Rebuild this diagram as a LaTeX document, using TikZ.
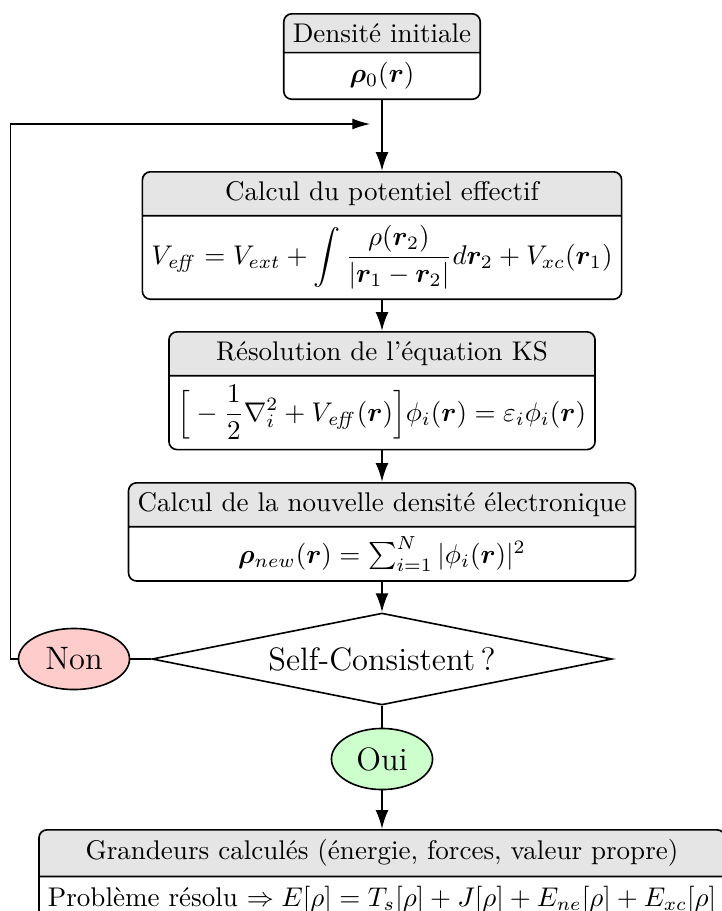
\documentclass[tikz,border=0pt]{standalone}
\usepackage{amsmath,bm}
\usetikzlibrary{shapes.multipart,shapes.geometric,arrows.meta,backgrounds}
\newcommand\headfill[1]{%
  \begin{scope}[on background layer]
    \begin{scope}
      \clip[rounded corners=3pt] (#1.north west) rectangle (#1.south east);
      \fill[gray!20] (#1.north west) rectangle (#1.one split east);
    \end{scope}
  \end{scope}}
\tikzset{
  box/.style={rectangle split, rectangle split parts=2, draw, semithick,
    rounded corners=3pt, anchor=north},
  arr/.style={thick, -{Latex[length=7pt,width=4.8pt]}},
  looparr/.style={-{Latex[length=6.5pt,width=4pt]}},
  decision/.style={diamond, draw, semithick, aspect=5, inner sep=0pt,
    minimum width=170.2pt, minimum height=34pt, font=\large},
  non/.style={ellipse, draw, semithick, fill=red!20, font=\large,
    minimum width=41.1pt, minimum height=22.6pt, inner sep=0pt},
  oui/.style={ellipse, draw, semithick, fill=green!20, font=\large,
    minimum width=37.4pt, minimum height=22.6pt, inner sep=0pt}
}
\begin{document}
\begin{tikzpicture}[x=0.37pt,y=-0.37pt]
\useasboundingbox (0,0) rectangle (722,911);
\clip (0,0) rectangle (722,911);
\node[box] (b1) at (382,13) {Densité initiale \nodepart{two} $\bm{\rho}_0(\bm{r})$};
\node[box] (b2) at (382,171) {Calcul du potentiel effectif \nodepart{two}
  $\displaystyle V_{\mathit{eff}} = V_{ext} + \int\frac{\rho(\bm{r}_2)}{|\bm{r}_1-\bm{r}_2|}d\bm{r}_2 + V_{xc}(\bm{r}_1)$};
\node[box] (b3) at (382,331) {Résolution de l’équation KS \nodepart{two}
  $\displaystyle{\Big[}-\frac{1}{2}\nabla_i^2+V_{\mathit{eff}}(\bm{r})\Big]\phi_i(\bm{r})=\varepsilon_i\phi_i(\bm{r})$};
\node[box] (b4) at (382,482) {Calcul de la nouvelle densité électronique \nodepart{two}
  $\bm{\rho}_{new}(\bm{r})=\sum_{i=1}^{N}|\phi_i(\bm{r})|^2$};
\node[decision] (d) at (382,659) {Self-Consistent\,?};
\node[non] (non) at (74,659) {Non};
\node[oui] (oui) at (382,759) {Oui};
\node[box] (b5) at (382,829) {Grandeurs calculés (énergie, forces, valeur propre) \nodepart{two}
  Problème résolu $\Rightarrow E[\rho]=T_s[\rho]+J[\rho]+E_{ne}[\rho]+E_{xc}[\rho]$};
\headfill{b1}\headfill{b2}\headfill{b3}\headfill{b4}\headfill{b5}
\coordinate (loopend) at (370,124);
\draw[arr] (b1.south) -- (b2.north);
\draw[arr] (b2.south) -- (b3.north);
\draw[arr] (b3.south) -- (b4.north);
\draw[arr] (b4.south) -- (d.north);
\draw[thick] (d.south) -- (oui.north);
\draw[arr] (oui.south) -- (b5.north);
\draw (d.west) -- (non.east);
\draw[looparr] (non.west) -- ++(-7,0) |- (loopend);
\end{tikzpicture}
\end{document}
